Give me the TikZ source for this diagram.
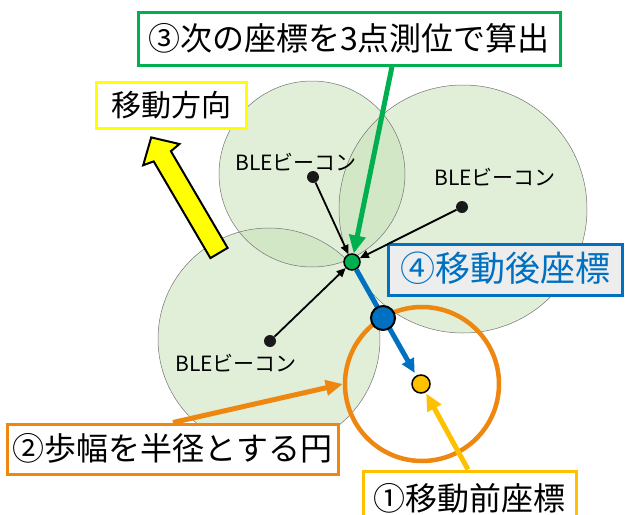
\documentclass[tikz,border=0pt]{standalone}
\usepackage{fontspec}
\newfontfamily\jp{Noto Sans CJK JP}
\usetikzlibrary{arrows.meta}
\definecolor{cgreen}{RGB}{0,176,80}
\definecolor{cblue}{RGB}{0,112,192}
\definecolor{corange}{RGB}{238,135,15}
\definecolor{cgold}{RGB}{255,192,0}
\definecolor{cyel}{RGB}{255,255,0}
\definecolor{cfill}{RGB}{197,224,180}
\definecolor{cgray}{RGB}{237,237,237}
\tikzset{
  lbl/.style={font=\jp\fontsize{32pt}{38pt}\selectfont, fill=white, line width=3pt, inner sep=0pt, text height=27pt, text depth=4pt},
  ble/.style={font=\jp\fontsize{21pt}{25pt}\selectfont, inner sep=0pt},
  beaconrange/.style={fill=cfill, fill opacity=0.5},
  rangeedge/.style={draw=black!55, line width=0.5pt},
  beacon/.style={circle, fill=black!90, minimum size=12pt, inner sep=0pt},
  blk/.style={line width=1.8pt, -{Triangle[length=9pt,width=8pt]}},
}
\begin{document}
\begin{tikzpicture}[x=1pt,y=-1pt]
\useasboundingbox[fill=white] (0,0) rectangle (625,515);
% beacon ranges
\fill[beaconrange] (312,174) circle (93);
\fill[beaconrange] (463,209) circle (124);
\fill[beaconrange] (269,339) circle (111);
\draw[rangeedge] (312,174) circle (93);
\draw[rangeedge] (463,209) circle (124);
\draw[rangeedge] (269,339) circle (111);
% orange step circle
\node[circle, draw=corange, line width=4.5pt, minimum size=154pt, inner sep=0pt] (oc) at (422,384) {};
% yellow direction arrow
\draw[fill=cyel, line width=2pt, line join=miter] (227.6,247.9) -- (170.9,151.2) -- (179.4,144.0) -- (151.2,137.4) -- (143.2,165.2) -- (153.7,161.4) -- (210.4,258.1) -- cycle;
% beacons
\node[beacon] (b1) at (313,177) {};
\node[beacon] (b2) at (462,207) {};
\node[beacon] (b3) at (270,341) {};
\node[ble] (t1) at (296,162) {BLEビーコン};
\node[ble] (t2) at (495,177) {BLEビーコン};
\node[ble] (t3) at (236,363) {BLEビーコン};
% points
\node[circle, draw=black, line width=1.5pt, fill=cgreen, minimum size=16pt, inner sep=0pt] (g) at (352,262) {};
\node[circle, draw=black, line width=1.5pt, fill=cgold, minimum size=18pt, inner sep=0pt] (o) at (421,384) {};
% labels
\node[lbl, draw=cgreen, minimum width=422pt, minimum height=53pt] (lab3) at (349,38.5) {③次の座標を3点測位で算出};
\node[lbl, draw=cyel, minimum width=150pt, minimum height=46pt, font=\jp\fontsize{30pt}{36pt}\selectfont] (dir) at (171,105) {移動方向};
\node[lbl, draw=cblue, fill=cgray, text=cblue, minimum width=234pt, minimum height=51pt, font=\jp\fontsize{35pt}{41pt}\selectfont] (lab4) at (505,269.5) {④移動後座標};
\node[lbl, draw=corange, minimum width=331pt, minimum height=50pt] (lab2) at (172.5,449) {②歩幅を半径とする円};
\node[lbl, draw=cgold, minimum width=213pt, minimum height=56pt, font=\jp\fontsize{32pt}{38pt}\selectfont] (lab1) at (469.5,499) {①移動前座標};
% connectors
\draw[blk] (b1) -- (g);
\draw[blk] (b2) -- (g);
\draw[blk] (b3) -- (g);
\draw[cgreen, line width=5pt, -{Triangle[length=18pt,width=16pt]}] ([xshift=43pt]lab3.south) -- (g);
\draw[cblue, line width=5pt, -{Triangle[length=14pt,width=13pt]}, shorten >=3pt] (g) -- (o);
\node[circle, draw=black, line width=2pt, fill=cblue, minimum size=24pt, inner sep=0pt] (bp) at (383,318) {};
\draw[corange, line width=5pt, -{Triangle[length=17pt,width=15pt]}] ([xshift=0.5pt]lab2.north) -- (oc.west);
\draw[cgold, line width=5pt, -{Triangle[length=17pt,width=15pt]}, shorten >=1pt] ([xshift=-1.5pt]lab1.north) -- (o);
\end{tikzpicture}
\end{document}
